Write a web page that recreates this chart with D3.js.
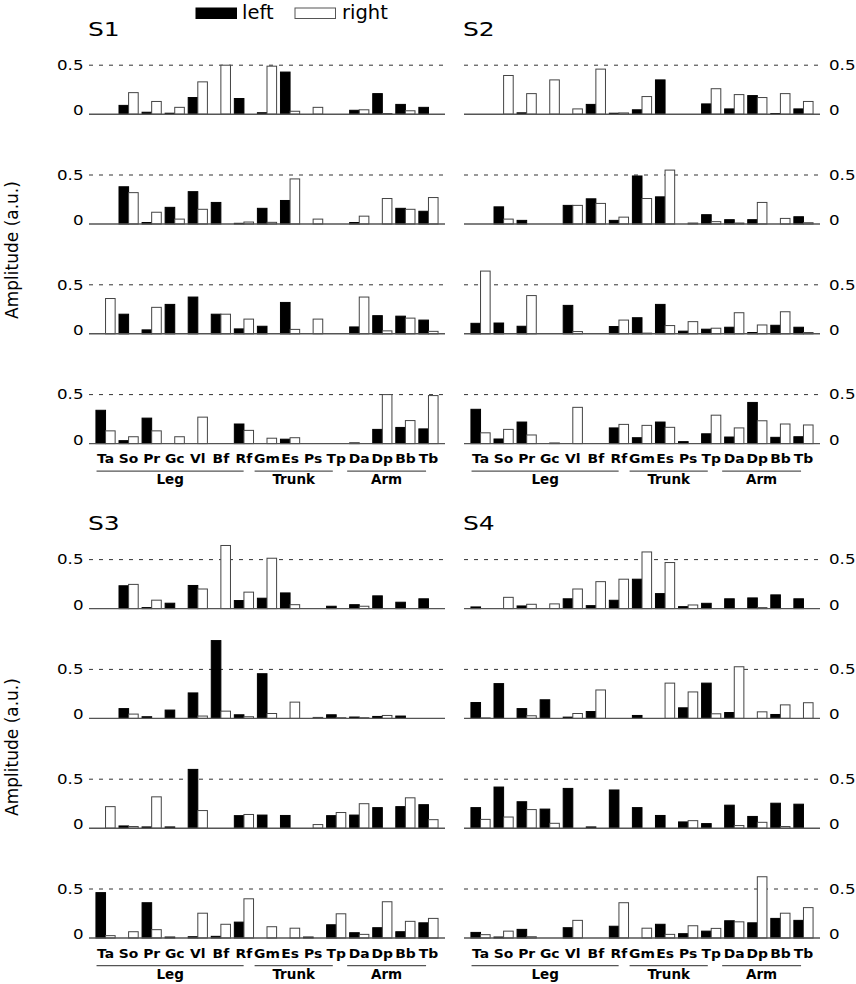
<!DOCTYPE html>
<html>
<head>
<meta charset="utf-8">
<script src="https://cdn.jsdelivr.net/npm/d3@7"></script>
<style>
  html, body { margin: 0; padding: 0; background: #fff; }
  svg { display: block; font-family: "DejaVu Sans", sans-serif; }
</style>
</head>
<body>
<svg id="chart" width="856" height="984"></svg>
<script>
// ---------------- DATA ----------------
const muscles = ["Ta","So","Pr","Gc","Vl","Bf","Rf","Gm","Es","Ps","Tp","Da","Dp","Bb","Tb"];
const groups = ["Leg","Trunk","Arm"];
const groupMembers = [["Ta","Rf"],["Gm","Tp"],["Da","Tb"]];
const subjects = ["S1","S2","S3","S4"];
const seriesNames = ["left","right"];
const yTicks = [0, 0.5];

const s1Left = [
  [0, 0.09, 0.02, 0.01, 0.17, 0, 0.16, 0.015, 0.43, 0, 0, 0.04, 0.21, 0.10, 0.07],
  [0, 0.38, 0.015, 0.17, 0.33, 0.22, 0.007, 0.16, 0.24, 0, 0, 0.015, 0, 0.16, 0.13],
  [0, 0.20, 0.04, 0.30, 0.375, 0.20, 0.05, 0.077, 0.32, 0, 0, 0.07, 0.185, 0.18, 0.14],
  [0.34, 0.03, 0.26, 0, 0, 0, 0.20, 0, 0.045, 0, 0, 0.007, 0.145, 0.165, 0.15]
];
const s1Right = [
  [0, 0.22, 0.13, 0.07, 0.33, 0.50, 0, 0.49, 0.03, 0.07, 0, 0.045, 0.007, 0.035, 0],
  [0, 0.32, 0.12, 0.05, 0.15, 0, 0.02, 0.017, 0.46, 0.05, 0, 0.08, 0.26, 0.15, 0.27],
  [0.36, 0, 0.27, 0, 0, 0.20, 0.15, 0, 0.045, 0.15, 0, 0.375, 0.03, 0.16, 0.025],
  [0.13, 0.07, 0.13, 0.07, 0.27, 0, 0.135, 0.055, 0.06, 0, 0, 0, 0.50, 0.235, 0.49]
];
const s2Left = [
  [0, 0, 0.014, 0, 0, 0.10, 0.01, 0.045, 0.35, 0, 0.105, 0.054, 0.19, 0.007, 0.054],
  [0, 0.175, 0.037, 0, 0.19, 0.257, 0.037, 0.49, 0.277, 0, 0.095, 0.044, 0.044, 0, 0.074],
  [0.107, 0.11, 0.077, 0, 0.29, 0, 0.074, 0.164, 0.30, 0.027, 0.047, 0.067, 0.013, 0.087, 0.067],
  [0.35, 0.047, 0.22, 0, 0, 0, 0.16, 0.06, 0.22, 0.02, 0.10, 0.067, 0.42, 0.064, 0.07]
];
const s2Right = [
  [0, 0.395, 0.21, 0.35, 0.054, 0.46, 0.013, 0.18, 0, 0, 0.26, 0.20, 0.17, 0.21, 0.13],
  [0, 0.05, 0, 0, 0.19, 0.21, 0.07, 0.26, 0.55, 0.01, 0.024, 0.01, 0.22, 0.057, 0.013],
  [0.64, 0, 0.39, 0, 0.023, 0, 0.14, 0.007, 0.084, 0.124, 0.057, 0.215, 0.09, 0.225, 0.013],
  [0.11, 0.145, 0.088, 0.007, 0.37, 0, 0.196, 0.186, 0.166, 0, 0.29, 0.16, 0.233, 0.20, 0.19]
];
const s3Left = [
  [0, 0.233, 0.01, 0.055, 0.236, 0, 0.082, 0.106, 0.16, 0, 0.024, 0.04, 0.13, 0.065, 0.10],
  [0, 0.10, 0.017, 0.085, 0.26, 0.794, 0.037, 0.456, 0, 0, 0.037, 0.014, 0.02, 0.024, 0],
  [0, 0.023, 0.013, 0.013, 0.60, 0, 0.128, 0.134, 0.13, 0, 0.128, 0.134, 0.21, 0.22, 0.24],
  [0.463, 0, 0.36, 0.01, 0.013, 0.017, 0.162, 0, 0, 0.01, 0.135, 0.054, 0.105, 0.064, 0.155]
];
const s3Right = [
  [0, 0.247, 0.086, 0, 0.20, 0.644, 0.168, 0.514, 0.04, 0, 0, 0.024, 0, 0, 0],
  [0, 0.044, 0, 0, 0.024, 0.074, 0.017, 0.05, 0.166, 0.01, 0.007, 0.007, 0.03, 0, 0],
  [0.22, 0.017, 0.32, 0, 0.18, 0, 0.14, 0, 0, 0.037, 0.16, 0.25, 0, 0.31, 0.087],
  [0.024, 0.064, 0.085, 0, 0.253, 0.14, 0.40, 0.115, 0.10, 0, 0.247, 0.037, 0.37, 0.17, 0.20]
];
const s4Left = [
  [0.017, 0, 0.027, 0, 0.10, 0.03, 0.085, 0.30, 0.153, 0.02, 0.054, 0.10, 0.109, 0.14, 0.10],
  [0.162, 0.355, 0.10, 0.19, 0.013, 0.07, 0, 0.03, 0, 0.108, 0.36, 0.06, 0, 0.04, 0],
  [0.21, 0.42, 0.27, 0.195, 0.406, 0.013, 0.39, 0.21, 0.13, 0.064, 0.047, 0.235, 0.12, 0.255, 0.245],
  [0.057, 0.01, 0.088, 0, 0.105, 0, 0.12, 0, 0.14, 0.044, 0.07, 0.176, 0.155, 0.20, 0.18]
];
const s4Right = [
  [0, 0.115, 0.044, 0.048, 0.20, 0.275, 0.30, 0.578, 0.47, 0.037, 0, 0, 0.01, 0, 0],
  [0.005, 0, 0.027, 0, 0.05, 0.29, 0, 0, 0.36, 0.27, 0.047, 0.527, 0.067, 0.138, 0.16],
  [0.09, 0.114, 0.19, 0.05, 0, 0, 0, 0, 0, 0.077, 0, 0.027, 0.06, 0.017, 0],
  [0.034, 0.07, 0.013, 0, 0.18, 0, 0.36, 0.10, 0.037, 0.125, 0.098, 0.165, 0.625, 0.253, 0.31]
];
const subjectLeft = [s1Left, s2Left, s3Left, s4Left];
const subjectRight = [s1Right, s2Right, s3Right, s4Right];

// ---------------- LAYOUT ----------------
const svg = d3.select("#chart");
const panelW = 356;
const rowGap = 109.8;
const halfUnit = 49; // px for 0.5
const panels = [
  {x: 89,  base: 114.2, side: "left"},
  {x: 464, base: 114.2, side: "right"},
  {x: 89,  base: 608.6, side: "left"},
  {x: 464, base: 608.6, side: "right"}
];
const lineColor = "#555";

// legend
const legend = svg.append("g");
[["left", "#000", "#000", 196, 242], ["right", "#fff", "#555", 295, 342]].forEach(([name, fill, stroke, rx, tx]) => {
  legend.append("rect").attr("x", rx).attr("y", 8).attr("width", 40.5).attr("height", 10.5)
    .attr("fill", fill).attr("stroke", stroke).attr("stroke-width", 1);
  legend.append("text").attr("x", tx).attr("y", 18.8).attr("font-size", 19.5).attr("fill", "#000").text(name);
});

// y-axis labels
[250, 747].forEach(cy => {
  svg.append("text")
    .attr("transform", `translate(18,${cy}) rotate(-90)`)
    .attr("text-anchor", "middle").attr("font-size", 17).attr("fill", "#000")
    .text("Amplitude (a.u.)");
});

subjects.forEach((sName, si) => {
  const p = panels[si];
  const g = svg.append("g");
  const x0 = d3.scaleBand().domain(muscles).range([p.x, p.x + panelW]).paddingInner(0).paddingOuter(0.217);
  const x1 = d3.scaleBand().domain(seriesNames).range([-9.6, 9.6]);
  const cx = m => x0(m) + x0.bandwidth() / 2;

  // title
  g.append("text")
    .attr("transform", `translate(${p.x - 1},${p.base - 78.3}) scale(1.25,1)`)
    .attr("font-size", 20).attr("fill", "#000").text(sName);

  for (let r = 0; r < 4; r++) {
    const baseY = p.base + r * rowGap;
    const y = d3.scaleLinear().domain([0, 0.5]).range([baseY, baseY - halfUnit]);
    const rg = g.append("g");

    // dashed 0.5 line
    rg.append("line").attr("x1", p.x).attr("x2", p.x + panelW)
      .attr("y1", y(0.5)).attr("y2", y(0.5))
      .attr("stroke", "#333").attr("stroke-width", 1).attr("stroke-dasharray", "4,6");

    // bars
    const leftVals = subjectLeft[si][r], rightVals = subjectRight[si][r];
    const rows = muscles.map((m, i) => ({m, left: leftVals[i], right: rightVals[i]}));
    rows.forEach(d => {
      seriesNames.forEach(s => {
        const v = d[s];
        if (v <= 0) return;
        rg.append("rect")
          .attr("x", cx(d.m) + x1(s))
          .attr("y", y(v))
          .attr("width", x1.bandwidth())
          .attr("height", y(0) - y(v))
          .attr("fill", s === "left" ? "#000" : "#fff")
          .attr("stroke", s === "left" ? "#000" : "#444")
          .attr("stroke-width", 1);
      });
    });

    // baseline
    rg.append("line").attr("x1", p.x).attr("x2", p.x + panelW)
      .attr("y1", y(0)).attr("y2", y(0))
      .attr("stroke", lineColor).attr("stroke-width", 1.4);

    // tick labels
    yTicks.forEach(t => {
      const ty = t === 0 ? y(0) + 1 : y(t) + 4.8;
      const tx = p.side === "left" ? p.x - 5.5 : p.x + panelW + 9;
      rg.append("text")
        .attr("transform", `translate(${tx},${ty}) scale(1.15,1)`)
        .attr("text-anchor", p.side === "left" ? "end" : "start")
        .attr("font-size", 14.5).attr("fill", "#000")
        .text(t === 0 ? "0" : "0.5");
    });

    // category labels on last row
    if (r === 3) {
      muscles.forEach(m => {
        rg.append("text")
          .attr("transform", `translate(${cx(m)},${baseY + 19.5}) scale(1.07,1)`)
          .attr("text-anchor", "middle").attr("font-size", 13).attr("font-weight", "bold")
          .attr("fill", "#000").text(m);
      });
      const offs = [[-9, -0.3], [-12.4, -3.4], [-12.1, -2.4]];
      groups.forEach((gname, gi) => {
        const xa = cx(groupMembers[gi][0]) + offs[gi][0];
        const xb = cx(groupMembers[gi][1]) + offs[gi][1];
        rg.append("line").attr("x1", xa).attr("x2", xb)
          .attr("y1", baseY + 27.6).attr("y2", baseY + 27.6)
          .attr("stroke", lineColor).attr("stroke-width", 1.2);
        rg.append("text").attr("x", (xa + xb) / 2).attr("y", baseY + 40.5)
          .attr("text-anchor", "middle").attr("font-size", 13.5).attr("font-weight", "bold")
          .attr("fill", "#000").text(gname);
      });
    }
  }
});
</script>
</body>
</html>
